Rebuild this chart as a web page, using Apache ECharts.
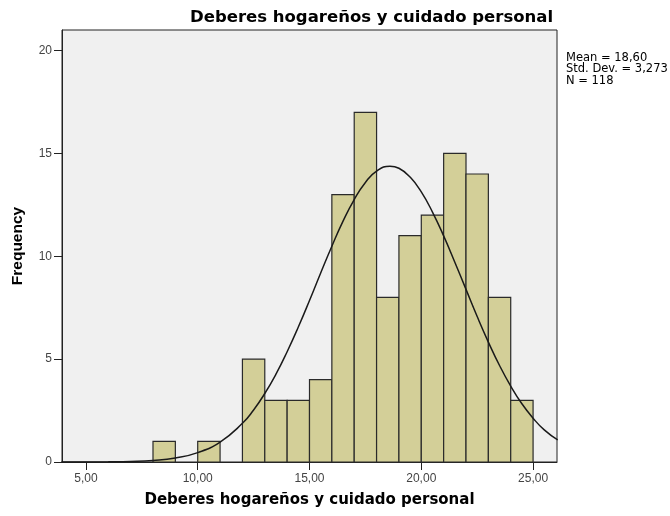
<!DOCTYPE html>
<html>
<head>
<meta charset="utf-8">
<script src="https://cdn.jsdelivr.net/npm/echarts@6/dist/echarts.min.js"></script>
<style>
  html, body { margin: 0; padding: 0; background: #fff; }
  #main { width: 670px; height: 516px; }
</style>
</head>
<body>
<div id="main"></div>
<script>
// histogram bins (lower edge, upper edge) and counts
var binStart = [8, 10, 12, 13, 14, 15, 16, 17, 18, 19, 20, 21, 22, 23, 24];
var binEnd   = [9, 11, 13, 14, 15, 16, 17, 18, 19, 20, 21, 22, 23, 24, 25];
var counts   = [1, 1, 5, 3, 3, 4, 13, 17, 8, 11, 12, 15, 14, 8, 3];

// normal curve
var curveX = [3.9, 5, 6, 7, 8, 9, 10, 11, 12, 12.5, 13, 13.5, 14, 14.5, 15, 15.5, 16, 16.5, 17, 17.5, 18, 18.6, 19, 19.5, 20, 20.5, 21, 21.5, 22, 22.5, 23, 23.5, 24, 24.5, 25, 25.5, 26.1];
var curveY = [0.001, 0.003, 0.009, 0.027, 0.076, 0.195, 0.456, 0.97, 1.88, 2.53, 3.33, 4.27, 5.36, 6.56, 7.85, 9.19, 10.49, 11.71, 12.76, 13.59, 14.14, 14.38, 14.28, 13.85, 13.13, 12.15, 10.99, 9.71, 8.39, 7.07, 5.83, 4.69, 3.69, 2.83, 2.13, 1.56, 1.07];

var xTicks = [5, 10, 15, 20, 25];
var yTicks = [0, 5, 10, 15, 20];
var statsLines = ['Mean = 18,60', 'Std. Dev. = 3,273', 'N = 118'];

var barData = [];
for (var i = 0; i < counts.length; i++) {
    barData.push([binStart[i], binEnd[i], counts[i]]);
}
var lineData = [];
for (var j = 0; j < curveX.length; j++) {
    lineData.push([curveX[j], curveY[j]]);
}

var chart = echarts.init(document.getElementById('main'), null, {renderer: 'canvas'});
var font = '"Liberation Sans", Arial, sans-serif';
var wideFont = '"DejaVu Sans", Verdana, sans-serif';

var option = {
    backgroundColor: '#fff',
    animation: false,
    title: {
        text: 'Deberes hogareños y cuidado personal',
        left: 185,
        top: 4,
        textStyle: { fontFamily: wideFont, fontSize: 16.5, fontWeight: 'bold', color: '#000' }
    },
    graphic: [{
        type: 'text',
        left: 566,
        top: 52,
        style: {
            text: statsLines.join('\n'),
            font: '11.5px ' + wideFont,
            fill: '#000',
            lineHeight: 11.5
        }
    }],
    grid: {
        left: 62, right: 113, top: 30, bottom: 54,
        show: true,
        backgroundColor: '#f0f0f0',
        borderColor: '#222',
        borderWidth: 1
    },
    xAxis: {
        type: 'value',
        min: 3.93,
        max: 26.07,
        name: 'Deberes hogareños y cuidado personal',
        nameLocation: 'middle',
        nameGap: 31,
        nameTextStyle: { fontFamily: wideFont, fontSize: 15, fontWeight: 'bold', color: '#000' },
        axisLine: { lineStyle: { color: '#222', width: 1 } },
        axisTick: { show: true, length: 8, customValues: xTicks, lineStyle: { color: '#222' } },
        axisLabel: {
            customValues: xTicks,
            color: '#444', fontFamily: font, fontSize: 12, margin: 11,
            formatter: function (v) { return v.toFixed(2).replace('.', ','); }
        },
        splitLine: { show: false }
    },
    yAxis: {
        type: 'value',
        min: 0,
        max: 21,
        name: 'Frequency',
        nameLocation: 'middle',
        nameGap: 36,
        nameRotate: 90,
        nameTextStyle: { fontFamily: font, fontSize: 15.5, fontWeight: 'bold', color: '#000' },
        axisLine: { show: true, lineStyle: { color: '#222', width: 1 } },
        axisTick: { show: true, length: 8, customValues: yTicks, lineStyle: { color: '#222' } },
        axisLabel: {
            customValues: yTicks,
            color: '#444', fontFamily: font, fontSize: 12, margin: 10
        },
        splitLine: { show: false }
    },
    series: [
        {
            type: 'custom',
            data: barData,
            renderItem: function (params, api) {
                var p0 = api.coord([api.value(0), 0]);
                var p1 = api.coord([api.value(1), api.value(2)]);
                return {
                    type: 'rect',
                    shape: { x: p0[0], y: p1[1], width: p1[0] - p0[0], height: p0[1] - p1[1] },
                    style: { fill: '#d3cf98', stroke: '#2a2a2a', lineWidth: 1.2 }
                };
            },
            encode: { x: [0, 1], y: 2 },
            z: 2
        },
        {
            type: 'line',
            data: lineData,
            smooth: true,
            showSymbol: false,
            clip: true,
            lineStyle: { color: '#1a1a1a', width: 1.5 },
            z: 3
        }
    ]
};

chart.setOption(option);
</script>
</body>
</html>
